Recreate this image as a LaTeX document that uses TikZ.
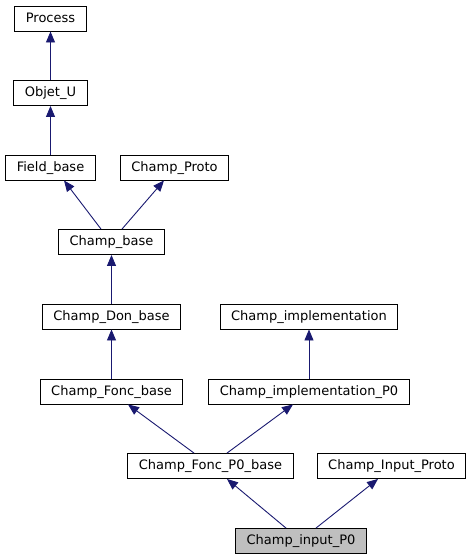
\documentclass[tikz,border=0pt]{standalone}
\usepackage{fontspec}
\setmainfont{DejaVu Sans}
\usetikzlibrary{arrows.meta}
\definecolor{edgeblue}{HTML}{191970}
\definecolor{curgrey}{HTML}{BFBFBF}
\begin{document}
\begin{tikzpicture}
[ x=1pt, y=-1pt
, every node/.style={draw=black, line width=0.9pt, minimum height=25pt,
    inner xsep=11pt, inner ysep=0pt, text height=9.5pt, text depth=2.5pt,
    font=\fontsize{13pt}{15pt}\selectfont}
, current/.style={fill=curgrey}
, inherit/.style={draw=edgeblue, line width=0.9pt,
    -{Triangle[length=11pt,width=9pt]}}
]
\useasboundingbox (0,0) rectangle (473,560);

\node (process)    at (50.5,18.5)  {Process};
\node (objetu)     at (50.5,93)    {Objet\_U};
\node (fieldbase)  at (50.5,167.5) {Field\_base};
\node (champproto) at (174.5,167.5) {Champ\_Proto};
\node (champbase)  at (111.5,242)  {Champ\_base};

\node (champdon)    at (111.5,316.5) {Champ\_Don\_base};
\node (champimpl)   at (309,316.5)   {Champ\_implementation};
\node (champfonc)   at (111.5,391.5) {Champ\_Fonc\_base};
\node (champimplp0) at (309,391.5)   {Champ\_implementation\_P0};

\node (champfoncp0)     at (210.5,466) {Champ\_Fonc\_P0\_base};
\node (champinputproto) at (391.5,466) {Champ\_Input\_Proto};
\node[current] (champinputp0) at (301,541) {Champ\_input\_P0};

\draw[inherit] (objetu) -- (process);
\draw[inherit] (fieldbase) -- (objetu);
\draw[inherit] ([xshift=-10.5pt]champbase.north) -- ([xshift=13.5pt]fieldbase.south);
\draw[inherit] ([xshift=10.5pt]champbase.north) -- ([xshift=-10.5pt]champproto.south);
\draw[inherit] (champdon) -- (champbase);
\draw[inherit] (champfonc) -- (champdon);
\draw[inherit] (champimplp0) -- (champimpl);
\draw[inherit] ([xshift=-16.5pt]champfoncp0.north) -- ([xshift=16.5pt]champfonc.south);
\draw[inherit] ([xshift=16.5pt]champfoncp0.north) -- ([xshift=-16pt]champimplp0.south);
\draw[inherit] ([xshift=-15pt]champinputp0.north) -- ([xshift=16.5pt]champfoncp0.south);
\draw[inherit] ([xshift=15pt]champinputp0.north) -- ([xshift=-13.5pt]champinputproto.south);

\end{tikzpicture}
\end{document}
